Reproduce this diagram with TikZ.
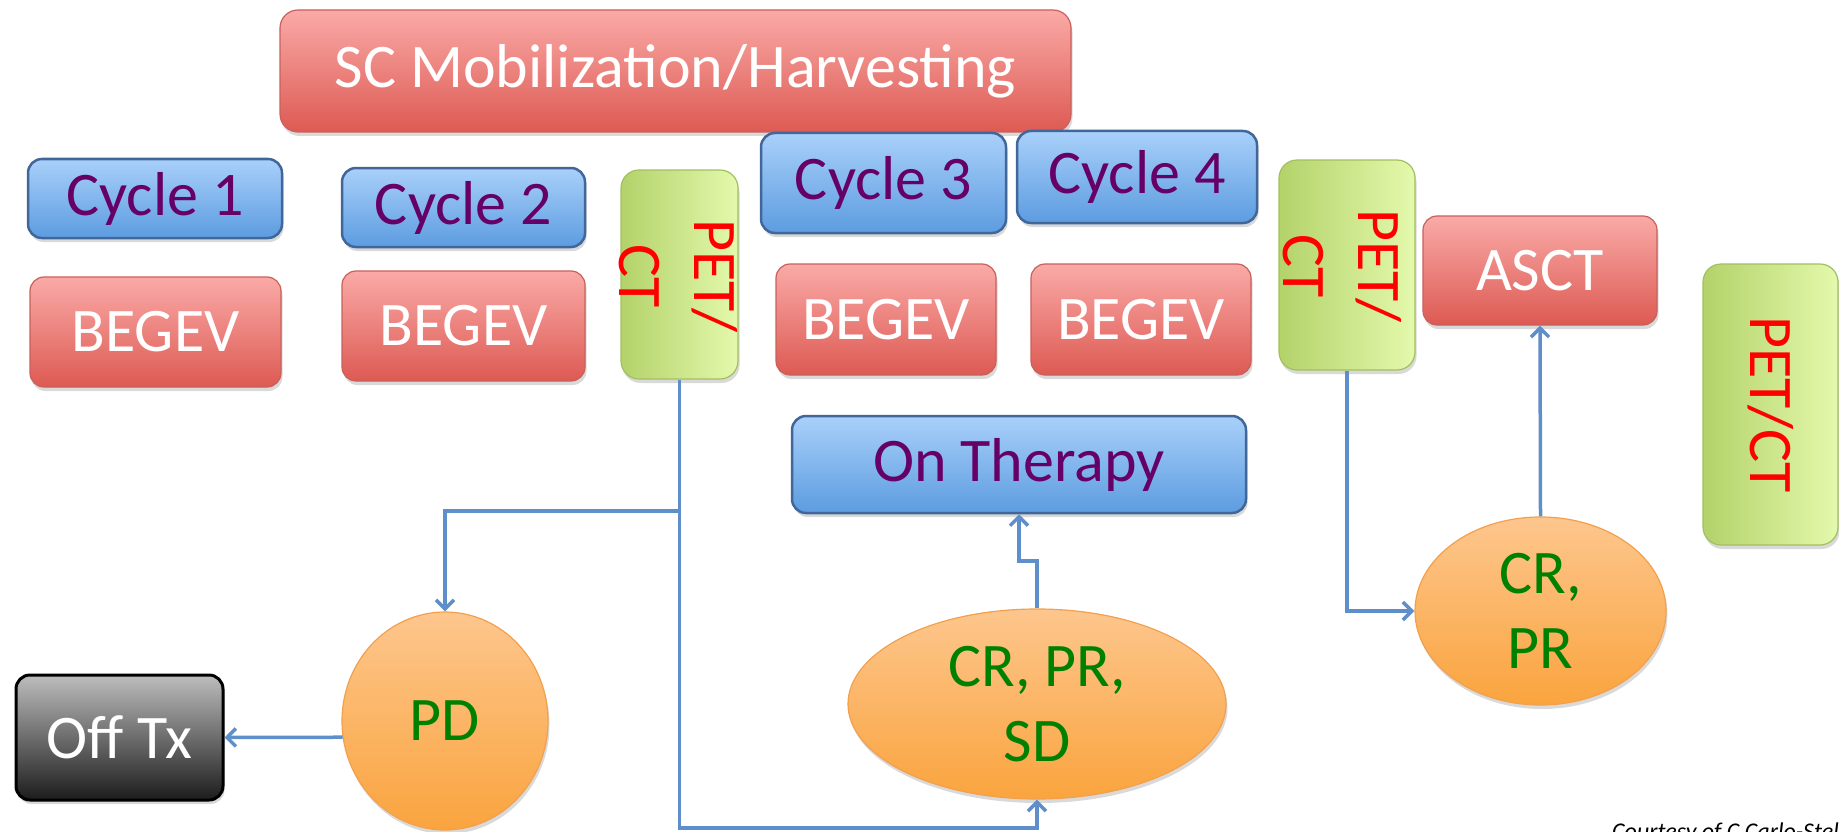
\documentclass[tikz,border=0pt]{standalone}
\usepackage{fontspec}
\setmainfont{Carlito}
\usetikzlibrary{shapes.geometric,arrows.meta,shadows,calc}
\definecolor{redtop}{HTML}{FAAAA7}
\definecolor{redbot}{HTML}{DD5A53}
\definecolor{redline}{HTML}{C9605B}
\definecolor{bluetop}{HTML}{A9D0FA}
\definecolor{bluebot}{HTML}{5C9CE0}
\definecolor{blueline}{HTML}{41679A}
\definecolor{purp}{HTML}{660066}
\definecolor{greenl}{HTML}{B3D26A}
\definecolor{greenr}{HTML}{E4F9AC}
\definecolor{greenline}{HTML}{A2C060}
\definecolor{ortop}{HTML}{FDC68D}
\definecolor{orbot}{HTML}{FAA43E}
\definecolor{orline}{HTML}{F3A04E}
\definecolor{resgreen}{HTML}{008000}
\definecolor{offtop}{HTML}{BDBDBD}
\definecolor{offbot}{HTML}{1C1C1C}
\definecolor{connc}{HTML}{5F8FCB}
\tikzset{
  big/.style={font=\fontsize{62}{75}\selectfont},
  shad/.style={drop shadow={shadow xshift=1.5pt, shadow yshift=-4pt, opacity=0.3}},
  basebox/.style={big, shad, rounded corners=14pt, inner sep=0pt, align=center},
  redbox/.style={basebox, draw=redline, line width=1.2pt, top color=redtop, bottom color=redbot, text=white},
  bluebox/.style={basebox, draw=blueline, line width=2.5pt, top color=bluetop, bottom color=bluebot, text=purp},
  greenbox/.style={shad, draw=greenline, line width=1.2pt, left color=greenl, right color=greenr, rounded corners=18pt, inner sep=0pt},
  pettext/.style={big, text=red, align=center, rotate=-90, inner sep=0pt},
  resp/.style={big, shad, ellipse, draw=orline, line width=1.2pt, top color=ortop, bottom color=orbot, text=resgreen, align=center, inner sep=0pt},
  offbox/.style={basebox, draw=black, line width=3pt, top color=offtop, bottom color=offbot, text=white},
  conn/.style={draw=connc, line width=3.5pt, -{Straight Barb[length=9pt,width=18pt]}},
  plain/.style={draw=connc, line width=3.5pt},
}
\begin{document}
\begin{tikzpicture}[x=1pt,y=-1pt]
\useasboundingbox (0,0) rectangle (1839,832);
\clip (0,0) rectangle (1839,832);
% top bar
\node[redbox, rounded corners=18pt, minimum width=791, minimum height=122] (sc) at (675.5,71) {SC Mobilization/Harvesting};
% cycles
\node[bluebox, minimum width=254, minimum height=79] (c1) at (155,198.5) {Cycle 1};
\node[bluebox, minimum width=243, minimum height=79] (c2) at (463.5,207.5) {Cycle 2};
\node[bluebox, minimum width=245, minimum height=100] (c3) at (883.5,183) {Cycle 3};
\node[bluebox, minimum width=240, minimum height=92] (c4) at (1137,177) {Cycle 4};
% BEGEV
\node[redbox, minimum width=251, minimum height=110] (b1) at (155.5,332) {BEGEV};
\node[redbox, minimum width=243, minimum height=110] (b2) at (463.5,326) {BEGEV};
\node[redbox, minimum width=220, minimum height=111] (b3) at (886,319.5) {BEGEV};
\node[redbox, minimum width=220, minimum height=111] (b4) at (1141,319.5) {BEGEV};
\node[redbox, minimum width=234, minimum height=109] (asct) at (1540,270.5) {ASCT};
% PET/CT
\node[greenbox, minimum width=117, minimum height=209] (pet1) at (679.5,274.5) {};
\node[pettext] (pet1t) at (678,276) {PET/\\CT};
\node[greenbox, minimum width=136, minimum height=210] (pet2) at (1347,265) {};
\node[pettext] (pet2t) at (1342,266) {PET/\\CT};
\node[greenbox, minimum width=135, minimum height=281] (pet3) at (1770.5,404.5) {};
\node[pettext] (pet3t) at (1770.5,404.5) {PET/CT};
% on therapy
\node[bluebox, minimum width=454, minimum height=97] (onther) at (1019,464.5) {On Therapy};
% responses
\node[resp, minimum width=206, minimum height=218] (pd) at (445,721) {PD};
\node[resp, minimum width=378, minimum height=190] (crprsd) at (1037,704) {CR, PR,\\SD};
\node[resp, minimum width=251, minimum height=188] (crpr) at (1540.5,611) {CR,\\PR};
\node[offbox, minimum width=207, minimum height=125] (offtx) at (119.5,737.5) {Off Tx};
% connectors
\coordinate (j1) at (pet1.south |- 0,511);
\coordinate (j2) at (pet1.south |- 0,828);
\coordinate (k1) at (crprsd.north |- 0,561);
\draw[plain] (pet1.south) -- (j1);
\draw[conn] (j1) -| (pd.north);
\draw[conn] (j1) -- (j2) -| (crprsd.south);
\draw[conn] (crprsd.north) -- (k1) -| (onther.south);
\draw[conn] (pd.189) -- (offtx.east);
\draw[conn] (pet2.south) |- (crpr.west);
\draw[conn] (crpr.north) -- (asct.south);
% credit
\node[anchor=base west, inner sep=0pt, font=\fontsize{24}{28}\selectfont\itshape] (credit) at (1612,839) {Courtesy of C Carlo-Stella};
\end{tikzpicture}
\end{document}
